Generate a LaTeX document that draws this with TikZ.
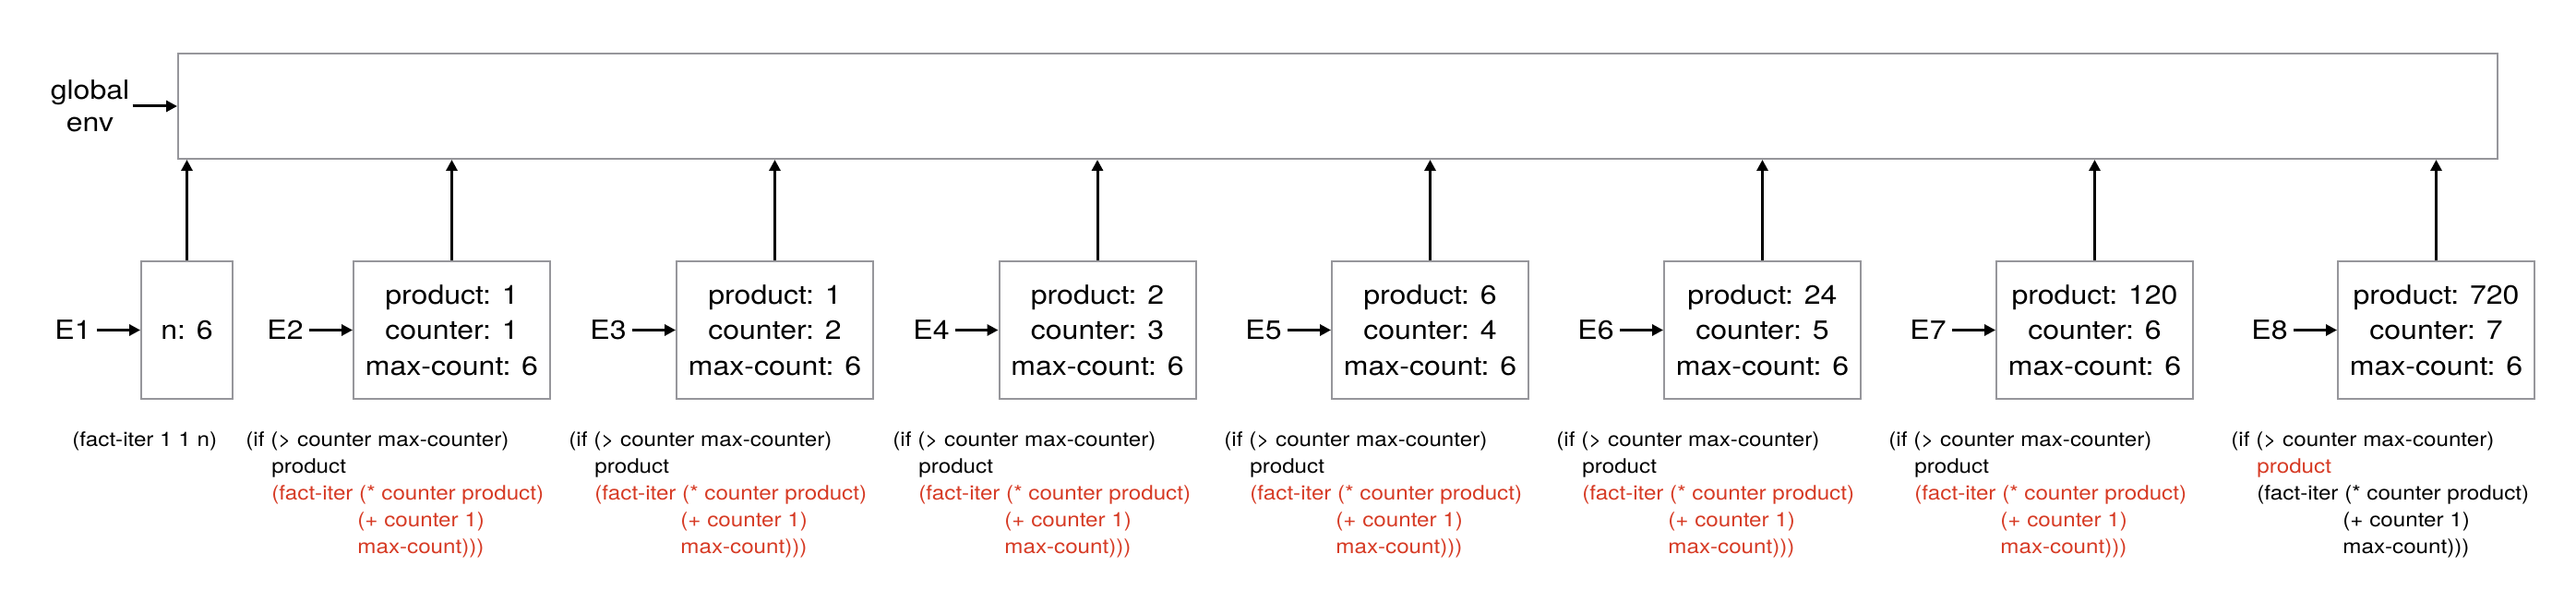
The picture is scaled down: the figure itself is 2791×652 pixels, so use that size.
\documentclass[tikz,border=0pt]{standalone}
\usepackage{fontspec}
\setmainfont{TeX Gyre Heros}[FakeStretch=1.12]
\usetikzlibrary{arrows.meta}

\definecolor{boxgray}{RGB}{150,150,155}
\definecolor{codered}{RGB}{214,58,36}

\newcommand{\ifblock}[2]{\begin{tabular}[t]{@{}l@{}}(if (> counter max-counter)\\
\hspace*{14pt}\textcolor{#1}{product}\\
\hspace*{14pt}\textcolor{#2}{(fact-iter (* counter product)}\\
\hspace*{60.5pt}\textcolor{#2}{(+ counter 1)}\\
\hspace*{60.5pt}\textcolor{#2}{max-count)))}\end{tabular}}

\begin{document}
\begin{tikzpicture}[x=0.5pt,y=-0.5pt,
	frame/.style={draw=boxgray,line width=1pt,inner sep=0pt,minimum height=74.5pt,align=center,font=\fontsize{14.3pt}{19.25pt}\selectfont},
	elabel/.style={inner sep=3pt,anchor=east,font=\fontsize{14.3pt}{19.25pt}\selectfont},
	code/.style={inner sep=0pt,anchor=base west,font=\fontsize{10.8pt}{14.5pt}\selectfont},
	ptr/.style={-{Triangle[length=6pt,width=6pt]},line width=1.5pt}]
\useasboundingbox (0,0) rectangle (2791,652);

\path (1449.5,115) node[draw=boxgray,line width=1pt,minimum width=1256.5pt,minimum height=57pt] (genv) {}
		(97.5,115) node[align=center,inner sep=1.5pt,font=\fontsize{14.3pt}{17.5pt}\selectfont] (glabel) {global\\env}
		(202.5,357.5) node[frame,minimum width=49.5pt] (b1) {n: 6}
		(489.5,357.5) node[frame,minimum width=106.5pt] (b2) {product: 1\\counter: 1\\max-count: 6}
		(839.5,357.5) node[frame,minimum width=106.5pt] (b3) {product: 1\\counter: 2\\max-count: 6}
		(1189,357.5) node[frame,minimum width=106.5pt] (b4) {product: 2\\counter: 3\\max-count: 6}
		(1549.5,357.5) node[frame,minimum width=106.5pt] (b5) {product: 6\\counter: 4\\max-count: 6}
		(1909.5,357.5) node[frame,minimum width=106.5pt] (b6) {product: 24\\counter: 5\\max-count: 6}
		(2269.5,357.5) node[frame,minimum width=106.5pt] (b7) {product: 120\\counter: 6\\max-count: 6}
		(2639.5,357.5) node[frame,minimum width=106.5pt] (b8) {product: 720\\counter: 7\\max-count: 6}
		(105,357.5) node[elabel] (e1) {E1}
		(335,357.5) node[elabel] (e2) {E2}
		(685,357.5) node[elabel] (e3) {E3}
		(1035,357.5) node[elabel] (e4) {E4}
		(1395,357.5) node[elabel] (e5) {E5}
		(1755,357.5) node[elabel] (e6) {E6}
		(2115,357.5) node[elabel] (e7) {E7}
		(2485,357.5) node[elabel] (e8) {E8}
		(78,483.5) node[code] (c1) {(fact-iter 1 1 n)}
		(266,483.5) node[code] (c2) {\ifblock{black}{codered}}
		(616,483.5) node[code] (c3) {\ifblock{black}{codered}}
		(967,483.5) node[code] (c4) {\ifblock{black}{codered}}
		(1326,483.5) node[code] (c5) {\ifblock{black}{codered}}
		(1686,483.5) node[code] (c6) {\ifblock{black}{codered}}
		(2046,483.5) node[code] (c7) {\ifblock{black}{codered}}
		(2417,483.5) node[code] (c8) {\ifblock{codered}{black}}
		;

\draw[ptr] (glabel.east) -- (glabel.east -| genv.west);

\draw[ptr] (node cs:name=e1) -- (node cs:name=b1);
\draw[ptr] (node cs:name=e2) -- (node cs:name=b2);
\draw[ptr] (node cs:name=e3) -- (node cs:name=b3);
\draw[ptr] (node cs:name=e4) -- (node cs:name=b4);
\draw[ptr] (node cs:name=e5) -- (node cs:name=b5);
\draw[ptr] (node cs:name=e6) -- (node cs:name=b6);
\draw[ptr] (node cs:name=e7) -- (node cs:name=b7);
\draw[ptr] (node cs:name=e8) -- (node cs:name=b8);

\draw[ptr] (b1.north) -- (b1.north |- genv.south);
\draw[ptr] (b2.north) -- (b2.north |- genv.south);
\draw[ptr] (b3.north) -- (b3.north |- genv.south);
\draw[ptr] (b4.north) -- (b4.north |- genv.south);
\draw[ptr] (b5.north) -- (b5.north |- genv.south);
\draw[ptr] (b6.north) -- (b6.north |- genv.south);
\draw[ptr] (b7.north) -- (b7.north |- genv.south);
\draw[ptr] (b8.north) -- (b8.north |- genv.south);
\end{tikzpicture}
\end{document}
